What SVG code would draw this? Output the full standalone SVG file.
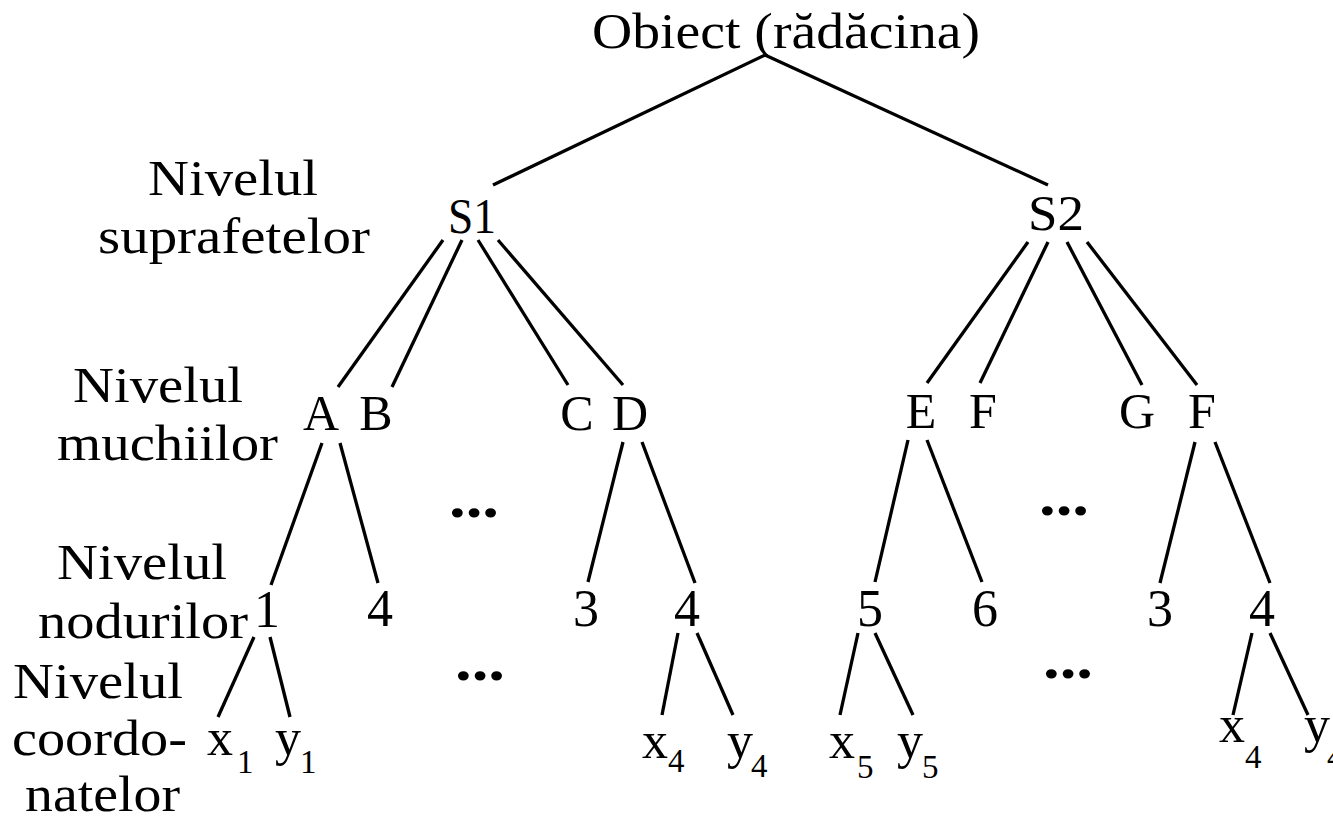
<svg xmlns="http://www.w3.org/2000/svg" width="1333" height="822" viewBox="0 0 1333 822">
<style>
text{font-family:"Liberation Serif","Times New Roman",serif;fill:#000}
.lbl{font-size:50px}
.nd{font-size:50px;text-anchor:middle}
.num{font-size:52px;text-anchor:middle}
.co{font-size:52px}
.sub{font-size:33px}
.dots{font-size:56px;font-weight:bold;text-anchor:middle}
#connectors line{stroke:#000;stroke-width:3.3;stroke-linecap:butt}
</style>
<rect width="1333" height="822" fill="#fff"/>
<g id="level-labels">
<text class="lbl" x="148" y="195" textLength="170" lengthAdjust="spacingAndGlyphs">Nivelul</text>
<text class="lbl" x="98" y="253" textLength="272" lengthAdjust="spacingAndGlyphs">suprafetelor</text>
<text class="lbl" x="73" y="402" textLength="170" lengthAdjust="spacingAndGlyphs">Nivelul</text>
<text class="lbl" x="57" y="460" textLength="221" lengthAdjust="spacingAndGlyphs">muchiilor</text>
<text class="lbl" x="57" y="579" textLength="170" lengthAdjust="spacingAndGlyphs">Nivelul</text>
<text class="lbl" x="38" y="638" textLength="210" lengthAdjust="spacingAndGlyphs">nodurilor</text>
<text class="lbl" x="13" y="698" textLength="170" lengthAdjust="spacingAndGlyphs">Nivelul</text>
<text class="lbl" x="12" y="755" textLength="175" lengthAdjust="spacingAndGlyphs">coordo-</text>
<text class="lbl" x="25" y="811" textLength="155" lengthAdjust="spacingAndGlyphs">natelor</text>
</g>
<g id="connectors">
<line x1="765" y1="55" x2="493" y2="185"/>
<line x1="765" y1="55" x2="1048" y2="185"/>
<line x1="443" y1="240" x2="338" y2="387"/>
<line x1="462" y1="240" x2="392" y2="387"/>
<line x1="478" y1="240" x2="568" y2="385"/>
<line x1="498" y1="240" x2="623" y2="385"/>
<line x1="1028" y1="242" x2="927" y2="383"/>
<line x1="1048" y1="242" x2="980" y2="383"/>
<line x1="1067" y1="242" x2="1142" y2="385"/>
<line x1="1087" y1="242" x2="1197" y2="385"/>
<line x1="322" y1="443" x2="271" y2="585"/>
<line x1="340" y1="443" x2="378" y2="583"/>
<line x1="623" y1="442" x2="588" y2="582"/>
<line x1="642" y1="442" x2="695" y2="583"/>
<line x1="908" y1="440" x2="875" y2="582"/>
<line x1="927" y1="440" x2="982" y2="582"/>
<line x1="1195" y1="442" x2="1160" y2="583"/>
<line x1="1215" y1="442" x2="1270" y2="583"/>
<line x1="254" y1="637" x2="218" y2="717"/>
<line x1="270" y1="637" x2="290" y2="717"/>
<line x1="678" y1="633" x2="662" y2="715"/>
<line x1="697" y1="633" x2="733" y2="715"/>
<line x1="858" y1="633" x2="840" y2="715"/>
<line x1="875" y1="633" x2="913" y2="715"/>
<line x1="1252" y1="633" x2="1233" y2="715"/>
<line x1="1270" y1="633" x2="1308" y2="715"/>
</g>
<g id="root"><text class="lbl" x="592" y="48" font-size="52" textLength="388" lengthAdjust="spacingAndGlyphs">Obiect (rădăcina)</text></g>
<g id="S1"><text class="nd" x="472" y="233" textLength="48" lengthAdjust="spacingAndGlyphs">S1</text></g>
<g id="S2"><text class="nd" x="1056" y="230" textLength="56" lengthAdjust="spacingAndGlyphs">S2</text></g>
<g id="A"><text class="nd" x="321" y="430">A</text></g>
<g id="B"><text class="nd" x="376" y="430">B</text></g>
<g id="C"><text class="nd" x="577" y="430">C</text></g>
<g id="D"><text class="nd" x="630" y="430">D</text></g>
<g id="E"><text class="nd" x="921" y="428">E</text></g>
<g id="F1"><text class="nd" x="983" y="428">F</text></g>
<g id="G"><text class="nd" x="1137" y="428">G</text></g>
<g id="F2"><text class="nd" x="1202" y="428">F</text></g>
<g id="n1"><text class="num" x="267" y="627">1</text></g>
<g id="n4a"><text class="num" x="380" y="626">4</text></g>
<g id="n3a"><text class="num" x="586" y="626">3</text></g>
<g id="n4b"><text class="num" x="687" y="626">4</text></g>
<g id="n5"><text class="num" x="870" y="626">5</text></g>
<g id="n6"><text class="num" x="985" y="626">6</text></g>
<g id="n3b"><text class="num" x="1160" y="626">3</text></g>
<g id="n4c"><text class="num" x="1262" y="626">4</text></g>
<g id="x1"><text class="co" x="207" y="755">x<tspan class="sub" dx="4" dy="18">1</tspan></text></g>
<g id="y1"><text class="co" x="275" y="755">y<tspan class="sub" dx="-1" dy="18">1</tspan></text></g>
<g id="x4a"><text class="co" x="642" y="758">x<tspan class="sub" dy="14">4</tspan></text></g>
<g id="y4a"><text class="co" x="727" y="758">y<tspan class="sub" dx="-2" dy="19">4</tspan></text></g>
<g id="x5"><text class="co" x="829" y="758">x<tspan class="sub" dx="2" dy="20">5</tspan></text></g>
<g id="y5"><text class="co" x="897" y="758">y<tspan class="sub" dx="-1" dy="20">5</tspan></text></g>
<g id="x4b"><text class="co" x="1219" y="742">x<tspan class="sub" dy="26">4</tspan></text></g>
<g id="y4b"><text class="co" x="1304" y="742">y<tspan class="sub" dx="-3" dy="26">4</tspan></text></g>
<g id="ellipses">
<text class="dots" x="474" y="517" textLength="50" lengthAdjust="spacingAndGlyphs">...</text>
<text class="dots" x="480" y="680" textLength="50" lengthAdjust="spacingAndGlyphs">...</text>
<text class="dots" x="1064" y="515" textLength="50" lengthAdjust="spacingAndGlyphs">...</text>
<text class="dots" x="1068" y="678" textLength="50" lengthAdjust="spacingAndGlyphs">...</text>
</g>
</svg>
